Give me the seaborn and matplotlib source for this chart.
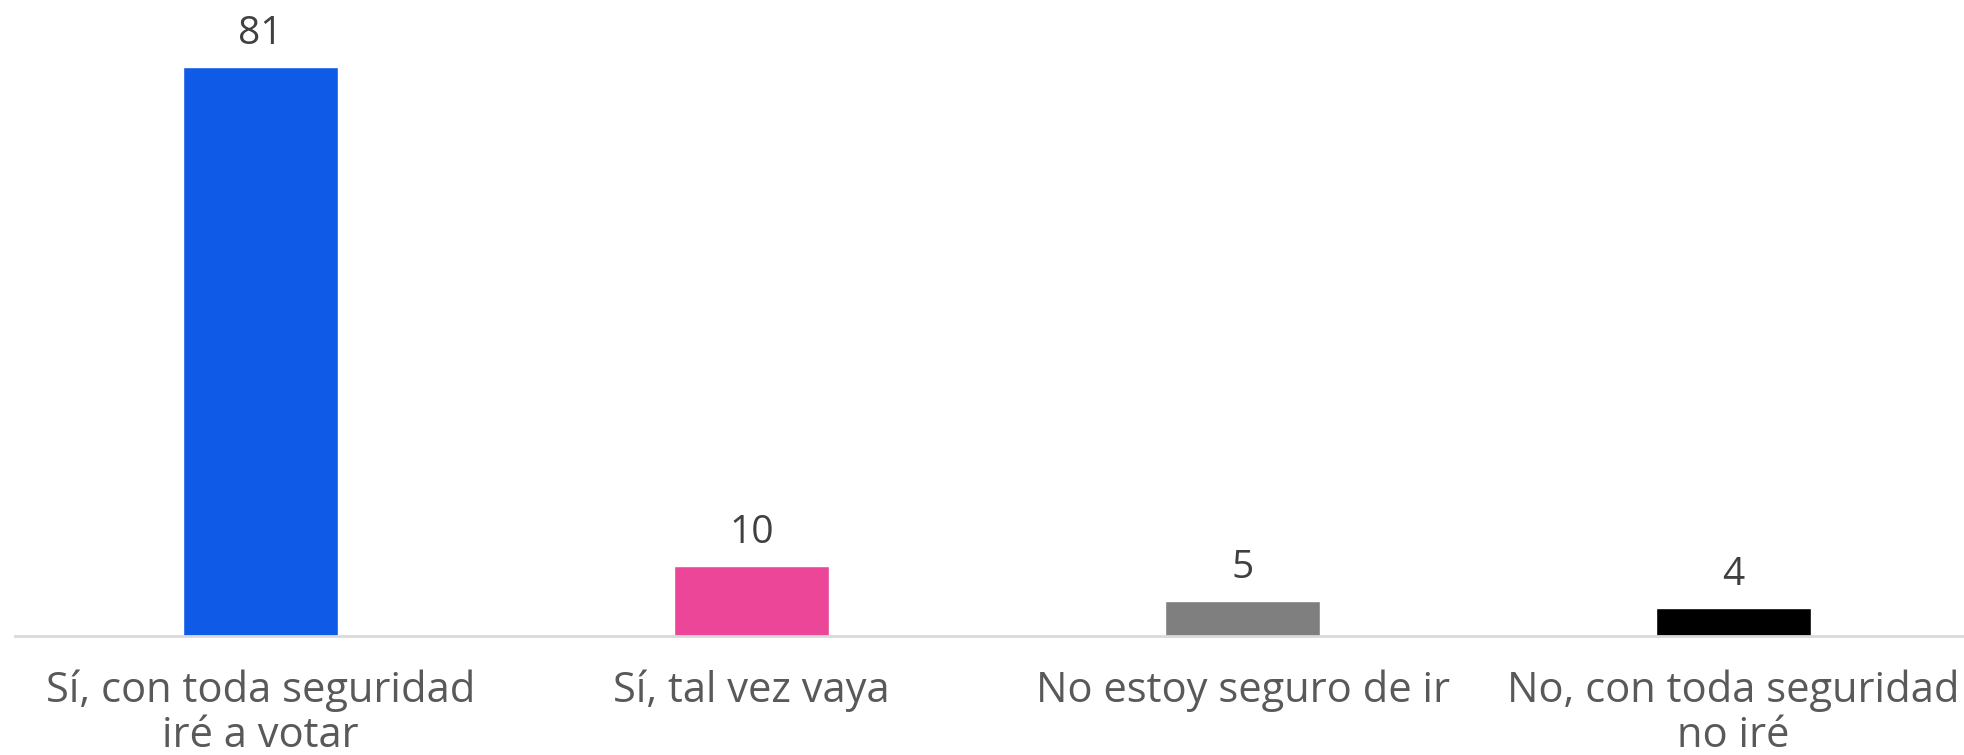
import matplotlib
matplotlib.use("Agg")
import matplotlib.pyplot as plt
import seaborn as sns
import pandas as pd

# Data
categories = ["Sí, con toda seguridad\niré a votar", "Sí, tal vez vaya",
              "No estoy seguro de ir", "No, con toda seguridad\nno iré"]
values = [81, 10, 5, 4]
colors = ["#0F5AE6", "#EC4699", "#7F7F7F", "#000000"]

df = pd.DataFrame({"respuesta": categories, "pct": values})

sns.set_style("white")
plt.rcParams["font.family"] = ["Open Sans", "DejaVu Sans"]

fig = plt.figure(figsize=(19.64, 7.55), dpi=100)
ax = fig.add_axes([15 / 1964, 119 / 755, 1.0, 569.5 / 755])

sns.barplot(data=df, x="respuesta", y="pct", hue="respuesta", palette=colors,
            width=0.316, legend=False, ax=ax, saturation=1)

for c in ax.containers:
    ax.bar_label(c, fmt="%d", padding=10, fontsize=28, color="#404040")

ax.set_ylim(0, 81)
ax.set_xlim(-0.5, 3.5)
ax.set_xlabel("")
ax.set_ylabel("")
ax.set_yticks([])
ax.tick_params(axis="x", length=0, pad=24, labelsize=30, labelcolor="#595959")
for lbl in ax.get_xticklabels():
    lbl.set_linespacing(1.1)
for s in ["top", "right", "left"]:
    ax.spines[s].set_visible(False)
ax.spines["bottom"].set_color("#D9D9D9")
ax.spines["bottom"].set_linewidth(2)

fig.savefig("out.png", dpi=100, facecolor="white")
